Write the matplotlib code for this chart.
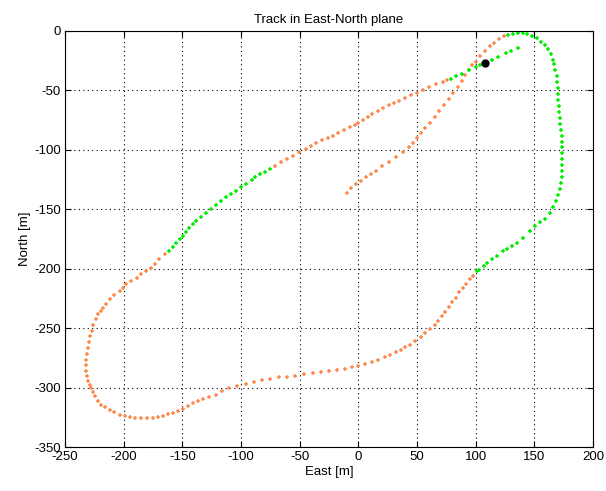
import matplotlib
matplotlib.use("Agg")
import matplotlib.pyplot as plt
import numpy as np

# track points in travel order, east / north [m]
# quality flag: 0 = orange, 1 = green
east = [
    # inner branch (orange)
    -10, -6, -2, 2, 6.6, 11, 15, 20, 26, 32, 38, 43, 47, 50, 53, 57, 61, 65, 69, 73,
    77, 81, 85, 88, 91, 94, 97, 100, 104, 108, 112, 116, 120, 124,
    # east loop (green)
    128, 132, 136, 140, 144, 148, 152, 156, 159, 162, 164, 166, 167, 168, 169, 169.5, 170, 170, 170.5, 171,
    171, 171.5, 172, 173, 173.5, 174, 174, 174, 174, 174, 174, 173.5, 173, 172, 170.5, 168.6, 166, 163, 159, 155,
    151, 146, 140, 135, 131, 127, 123, 118, 114, 110, 107, 103, 101,
    # big loop (orange)
    98, 95, 92, 89, 86, 83, 80, 77, 74, 71, 68, 65.7, 61, 57, 53, 48.6, 44, 40, 36, 31.9,
    27, 23, 17, 12, 6, 0, -5, -11, -18, -25, -32, -39, -46, -54, -61, -68, -75, -82, -89, -96,
    -103, -110, -116, -121, -127, -132.6, -137, -141, -145, -149.6, -154, -158, -162, -166.6, -171, -175, -180, -185, -190, -195,
    -199, -203.4, -208, -212, -216, -219, -222, -224.6, -226, -227.5, -229, -230.3, -231, -231.7, -231.7, -231.7, -231, -230.3, -229.3, -228.3,
    -227, -226, -224, -221.8, -219.7, -217.6, -215, -212, -208, -203.4, -200.5, -197.7, -193.5, -189, -185, -180.7, -177, -173.7, -169.5, -165,
    # west leg (green)
    -161, -158, -155, -152, -149.6, -147, -144, -141, -138, -134, -129.7, -125.5, -121, -117, -112.7, -108.5, -104, -100, -95.7, -91,
    -87.7, -84, -79.5, -75,
    # middle leg (orange)
    -70.7, -65.5, -60.7, -55.5, -50.7, -45, -40, -36, -31, -26, -22, -17, -12, -7, -3, 0, 4, 8, 12, 16.5,
    21, 26, 30.5, 35, 40, 45, 50, 55, 60, 66, 72, 76,
    # final leg (green)
    78.6, 83, 88.6, 94, 100, 104, 114, 119, 125.7, 130, 135.7,
]
north = [
    -136, -132, -129, -126, -123, -120, -117.6, -114, -110, -106, -102, -98, -94, -90, -86, -82, -77, -72, -67, -62,
    -57, -52, -47, -42, -37, -33, -29, -26, -21, -17, -13, -10, -6.5, -4,
    -3, -2.5, -2, -2, -2.5, -4, -6, -9, -12, -15, -19, -24, -28, -33, -38, -43, -48, -53, -58, -63,
    -68, -73, -78, -83, -88, -93, -98, -103, -108, -113, -118, -123, -128, -133, -138, -143, -148, -152.8, -158, -161,
    -164, -168, -174, -178, -181, -183, -185, -189, -192, -195.5, -198, -201, -202,
    -206, -209, -212.5, -216, -220, -224.6, -228, -232, -236, -240, -244, -247, -251, -254, -257.5, -261, -264, -266, -268.5, -270.3,
    -272.5, -274.6, -276.8, -278.8, -280.5, -281.6, -283, -284, -285, -286, -286.8, -287.5, -289, -290, -290.8, -291.5, -292.5, -293.8, -295.5, -297,
    -298.5, -300.5, -303, -306, -308, -310, -311.5, -313, -315.5, -317.7, -319.5, -321, -322.5, -324, -325, -325.6, -326, -326, -325.5, -325,
    -324, -322.8, -320.5, -318.5, -316.5, -314.3, -311, -307.3, -304, -300.3, -297.5, -294.7, -290, -286, -281, -276.4, -271.5, -266.6, -261.5, -256.7,
    -252, -247, -242.5, -238.5, -235.5, -232.9, -229.5, -225.8, -222.3, -218.8, -216, -213, -210.3, -207.6, -204.8, -202, -199, -196, -192, -188,
    -185, -181.5, -178, -175, -172.5, -169, -165.4, -162.7, -160, -156.5, -152.8, -149.5, -146, -143, -140, -137.3, -134.5, -131, -128.5, -125,
    -122.5, -120.5, -118.5, -116.3,
    -113.5, -110.5, -108, -105, -102, -99, -96.5, -94, -92, -90, -88, -86, -83, -81, -79, -77.6, -75, -72, -69.7, -67,
    -64.6, -62.5, -60.5, -58.5, -56.5, -54, -52, -49.5, -47, -45, -43, -41,
    -40, -38, -36, -33, -30, -28.5, -24, -21.5, -18.5, -16.5, -14,
]
quality = [0] * 34 + [1] * 53 + [0] * 100 + [1] * 24 + [0] * 32 + [1] * 11

current_pos = (108, -27)

plt.rcParams["font.family"] = ["Liberation Sans", "DejaVu Sans"]
plt.rcParams["font.size"] = 9.5
plt.rcParams["axes.unicode_minus"] = False

e = np.array(east)
n = np.array(north)
q = np.array(quality)

fig = plt.figure(figsize=(6.06, 4.91), dpi=100)
ax = fig.add_axes([0.1073, 0.0896, 0.8712, 0.8473])

ax.plot(e[q == 0], n[q == 0], "+", color="#ff8a50", ms=3.5, mew=1.1, ls="none")
ax.plot(e[q == 1], n[q == 1], "+", color="#00ee00", ms=3.5, mew=1.1, ls="none")
ax.plot(*current_pos, "o", color="black", ms=5)

ax.set_xlim(-250, 200)
ax.set_ylim(-350, 0)
ax.set_xticks(np.arange(-250, 201, 50))
ax.set_yticks(np.arange(-350, 1, 50))
ax.grid(True, color="black", ls=(0, (1, 3)), lw=0.8)
ax.tick_params(direction="in", top=True, right=True, length=4, pad=3)
for spine in ax.spines.values():
    spine.set_linewidth(0.8)

ax.set_title("Track in East-North plane", fontsize=9.5, pad=6)
ax.set_xlabel("East [m]", labelpad=2)
ax.set_ylabel("North [m]", labelpad=2)

fig.savefig("out.png", dpi=100)
